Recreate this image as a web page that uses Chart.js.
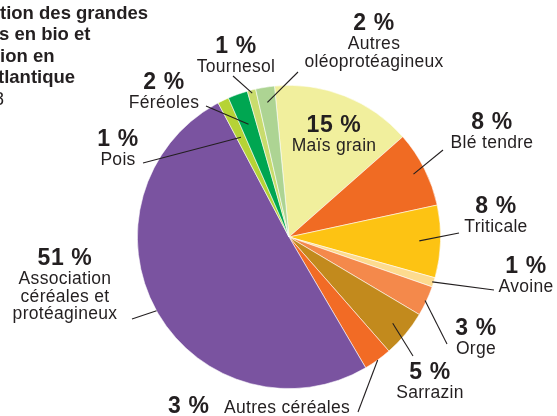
<!DOCTYPE html>
<html lang="fr">
<head>
<meta charset="utf-8">
<title>Répartition des grandes cultures</title>
<script src="https://cdn.jsdelivr.net/npm/chart.js@4/dist/chart.umd.min.js"></script>
<style>
    html, body { margin: 0; padding: 0; background: #fff; }
    #wrap { position: relative; width: 557px; height: 416px; overflow: hidden; }
</style>
</head>
<body>
<div id="wrap"><canvas id="pie" width="557" height="416"></canvas></div>
<script>
/* pie: répartition des cultures */

const cultures = ['Maïs grain', 'Blé tendre', 'Triticale', 'Avoine', 'Orge', 'Sarrazin', 'Autres céréales',
    'Association céréales et protéagineux', 'Pois', 'Féréoles', 'Tournesol', 'Autres oléoprotéagineux'];
const surfaces = [15, 8.1, 7.7, 1, 3.2, 5, 3, 50.6, 1.2, 2.1, 0.9, 2];
const pourcents = [15, 8, 8, 1, 3, 5, 3, 51, 1, 2, 1, 2];
const titleLines = ['tion des grandes', 's en bio et', 'ion en', 'tlantique', '8'];

const colors = ['#f1ef9d', '#f06b23', '#fdc313', '#fddb8f', '#f4894b', '#c28a1d', '#f26b25',
    '#7a53a0', '#b6d336', '#00a651', '#c9dc6d', '#add493'];

// où poser chaque étiquette (centre du texte, ligne de base du %), et le trait de rappel
const labelPos = [
    { x: 334, y: 132, name: ['Maïs grain'] },
    { x: 492, y: 129, name: ['Blé tendre'], r: 0.92, lx: 443, ly: 150 },
    { x: 496, y: 213, name: ['Triticale'], r: 0.86, lx: 459, ly: 233 },
    { x: 526, y: 273, name: ['Avoine'], r: 0.99, lx: 494, ly: 290 },
    { x: 476, y: 335, name: ['Orge'], r: 0.99, lx: 447, ly: 344 },
    { x: 430, y: 379, name: ['Sarrazin'], r: 0.89, lx: 413, ly: 356 },
    { x: 168, y: 413, name: ['Autres céréales'], inline: 224, r: 1.0, lx: 358, ly: 412 },
    { x: 65, y: 265, name: ['Association', 'céréales et', 'protéagineux'], r: 1.0, lx: 132, ly: 319 },
    { x: 118, y: 146, name: ['Pois'], r: 0.73, lx: 143, ly: 163 },
    { x: 164, y: 89, name: ['Féréoles'], r: 0.79, lx: 206, ly: 106 },
    { x: 236, y: 53, name: ['Tournesol'], r: 0.98, lx: 233, ly: 76 },
    { x: 374, y: 30, name: ['Autres', 'oléoprotéagineux'], r: 0.9, lx: 298, ly: 72 }
];

const INK = '#231f20';
const FONT = '"Liberation Sans", Arial, Helvetica, sans-serif';

const labelsPlugin = {
    id: 'pieLabels',
    afterDraw(chart) {
        const ctx = chart.ctx;
        const arcs = chart.getDatasetMeta(0).data;
        ctx.save();
        ctx.fillStyle = INK;
        ctx.strokeStyle = INK;
        ctx.lineWidth = 1.1;

        arcs.forEach((arc, i) => {
            const p = labelPos[i];
            if (p.r) {
                const mid = (arc.startAngle + arc.endAngle) / 2;
                const rr = arc.outerRadius * p.r;
                ctx.beginPath();
                ctx.moveTo(arc.x + Math.cos(mid) * rr, arc.y + Math.sin(mid) * rr);
                ctx.lineTo(p.lx, p.ly);
                ctx.stroke();
            }

            const pct = pourcents[i] + ' %';
            ctx.font = 'bold 23px ' + FONT;
            ctx.letterSpacing = '0.6px';
            ctx.textBaseline = 'alphabetic';
            if (p.inline) {
                ctx.textAlign = 'left';
                ctx.fillText(pct, p.x, p.y);
                ctx.font = '17.5px ' + FONT;
                ctx.letterSpacing = '0.3px';
                ctx.fillText(p.name[0], p.inline, p.y);
                return;
            }
            ctx.textAlign = 'center';
            ctx.fillText(pct, p.x, p.y);
            ctx.font = '17.5px ' + FONT;
            ctx.letterSpacing = '0.3px';
            p.name.forEach((t, k) => ctx.fillText(t, p.x, p.y + 19 + k * 17.5));
        });

        // titre, coupé à gauche comme sur l'original
        ctx.textAlign = 'left';
        ctx.letterSpacing = '0px';
        ctx.font = 'bold 18.5px ' + FONT;
        const tx = [0, -1, 0, -2];
        titleLines.slice(0, 4).forEach((t, k) => ctx.fillText(t, tx[k], 18.5 + k * 21.5));
        ctx.font = '18px ' + FONT;
        ctx.fillText(titleLines[4], -6, 104.5);
        ctx.restore();
    }
};

new Chart(document.getElementById('pie'), {
    type: 'pie',
    data: {
        labels: cultures,
        datasets: [{
            data: surfaces,
            backgroundColor: colors,
            borderColor: 'rgba(255,255,255,0.7)',
            borderWidth: 0.8
        }]
    },
    options: {
        responsive: false,
        animation: false,
        rotation: -5.5,
        layout: { padding: { left: 137, right: 116, top: 85, bottom: 27 } },
        plugins: { legend: { display: false }, tooltip: { enabled: false } }
    },
    plugins: [labelsPlugin]
});
</script>
</body>
</html>
